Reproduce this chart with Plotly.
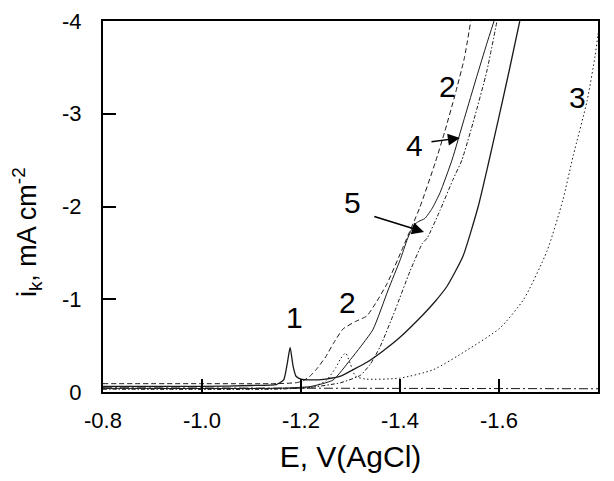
import plotly.graph_objects as go

# ---- data ----
E1 = [-0.80, -1.00, -1.10, -1.15, -1.165, -1.172, -1.178, -1.184, -1.19, -1.20, -1.22, -1.25, -1.28,
      -1.305, -1.333, -1.365, -1.40, -1.446, -1.47, -1.495, -1.527, -1.558, -1.578, -1.60, -1.62, -1.642]
I1 = [-0.06, -0.06, -0.07, -0.08, -0.13, -0.30, -0.48, -0.28, -0.17, -0.14, -0.13, -0.14, -0.17,
      -0.24, -0.32, -0.44, -0.59, -0.83, -0.97, -1.14, -1.46, -2.00, -2.45, -2.97, -3.45, -4.0]

E2 = [-0.80, -1.00, -1.15, -1.19, -1.204, -1.22, -1.232, -1.25, -1.265, -1.285, -1.31, -1.333, -1.35,
      -1.374, -1.406, -1.44, -1.471, -1.49, -1.511, -1.53, -1.543]
I2 = [-0.09, -0.09, -0.09, -0.10, -0.12, -0.18, -0.25, -0.38, -0.52, -0.68, -0.76, -0.82, -0.95,
      -1.17, -1.56, -1.99, -2.47, -2.80, -3.20, -3.60, -4.0]

E3 = [-0.80, -1.10, -1.22, -1.25, -1.27, -1.28, -1.29, -1.30, -1.31, -1.33, -1.40, -1.467, -1.535,
      -1.602, -1.65, -1.697, -1.729, -1.75, -1.778, -1.794, -1.80, -1.81]
I3 = [-0.04, -0.04, -0.05, -0.12, -0.26, -0.36, -0.42, -0.30, -0.17, -0.14, -0.15, -0.24, -0.45,
      -0.69, -1.00, -1.52, -2.07, -2.55, -3.14, -3.62, -3.85, -4.2]

E4 = [-0.80, -1.15, -1.22, -1.28, -1.32, -1.34, -1.36, -1.39, -1.42, -1.445, -1.455, -1.481, -1.507,
      -1.525, -1.55, -1.575, -1.596]
I4 = [-0.03, -0.03, -0.05, -0.10, -0.18, -0.30, -0.49, -0.88, -1.30, -1.60, -1.66, -1.96, -2.29,
      -2.50, -2.95, -3.45, -4.0]

E5 = [-0.80, -1.15, -1.22, -1.265, -1.30, -1.345, -1.376, -1.40, -1.415, -1.428, -1.438, -1.45, -1.465,
      -1.481, -1.505, -1.53, -1.555, -1.575, -1.59]
I5 = [-0.04, -0.04, -0.06, -0.13, -0.35, -0.67, -1.10, -1.42, -1.65, -1.80, -1.84, -1.87, -1.98,
      -2.15, -2.50, -2.95, -3.40, -3.75, -4.0]

E0 = [-0.80, -1.80]
I0 = [-0.045, -0.035]

x_ticks = [-0.8, -1.0, -1.2, -1.4, -1.6, -1.8]
x_ticktext = ["-0.8", "-1.0", "-1.2", "-1.4", "-1.6", "-1.8"]
y_ticks = [0, -1, -2, -3, -4]
y_ticktext = ["0", "-1", "-2", "-3", "-4"]

FONT = "Liberation Sans, Arial, sans-serif"
INK = "#1a1a1a"

fig = go.Figure()
fig.add_trace(go.Scatter(x=E0, y=I0, mode="lines",
                         line=dict(color=INK, width=1, dash="9px,3px,2px,3px")))
fig.add_trace(go.Scatter(x=E3, y=I3, mode="lines",
                         line=dict(color=INK, width=1, dash="1.5px,2.5px", shape="spline", smoothing=0.6)))
fig.add_trace(go.Scatter(x=E4, y=I4, mode="lines",
                         line=dict(color=INK, width=1, dash="4px,2px,1.5px,2px", shape="spline", smoothing=0.5)))
fig.add_trace(go.Scatter(x=E5, y=I5, mode="lines",
                         line=dict(color=INK, width=1, shape="spline", smoothing=0.5)))
fig.add_trace(go.Scatter(x=E2, y=I2, mode="lines",
                         line=dict(color=INK, width=1, dash="5px,3px", shape="spline", smoothing=0.5)))
fig.add_trace(go.Scatter(x=E1, y=I1, mode="lines",
                         line=dict(color=INK, width=1.3, shape="spline", smoothing=0.5)))

labels = [("1", -1.186, -0.80), ("2", -1.293, -0.96), ("2", -1.495, -3.29),
          ("3", -1.758, -3.17), ("4", -1.430, -2.66), ("5", -1.305, -2.04)]
for t, xx, yy in labels:
    fig.add_annotation(x=xx, y=yy, text=t, showarrow=False,
                       font=dict(family=FONT, size=30, color="#000"))

arrows = [(-1.521, -2.739, -1.4606, -2.695), (-1.4485, -1.725, -1.345, -1.898)]
for xt, yt, xa, ya in arrows:
    fig.add_annotation(x=xt, y=yt, ax=xa, ay=ya, axref="x", ayref="y", text="",
                       showarrow=True, arrowhead=2, arrowsize=1.6, arrowwidth=1.5,
                       arrowcolor="#000")

# y-axis title (placed as a rotated annotation, slightly below the axis centre as in the reference)
fig.add_annotation(xref="paper", yref="paper", x=-0.1535, y=0.431,
                   xanchor="center", yanchor="middle", textangle=-90, showarrow=False,
                   text="i<sub>k</sub>, mA cm<sup>-2</sup>",
                   font=dict(family=FONT, size=27, color="#000"))

# the page body has an 8px margin: size the figure so the plot frame lands where the reference has it
fig.update_layout(
    width=598, height=465,
    margin=dict(l=95, r=8, t=13, b=81),
    paper_bgcolor="white", plot_bgcolor="white",
    showlegend=False,
    font=dict(family=FONT, color="#000"),
)
fig.update_xaxes(
    range=[-0.8, -1.8], tickvals=x_ticks, ticktext=x_ticktext,
    ticks="inside", ticklen=13, tickwidth=1.5, tickcolor="#000",
    showline=True, linewidth=2, linecolor="#000", mirror=True,
    showgrid=False, zeroline=False, automargin=False, ticklabelstandoff=8,
    tickfont=dict(size=22, family=FONT),
    title=dict(text="E, V(AgCl)", font=dict(size=30, family=FONT), standoff=25),
)
fig.update_yaxes(
    range=[0, -4], tickvals=y_ticks, ticktext=y_ticktext,
    ticks="inside", ticklen=13, tickwidth=1.5, tickcolor="#000",
    showline=True, linewidth=2, linecolor="#000", mirror=True,
    showgrid=False, zeroline=False, automargin=False, ticklabelstandoff=15,
    tickfont=dict(size=22, family=FONT),
)

fig.write_html("out.html")
